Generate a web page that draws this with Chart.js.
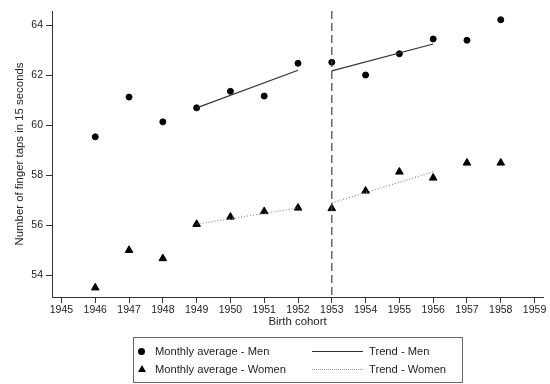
<!DOCTYPE html>
<html>
<head>
<meta charset="utf-8">
<script src="https://cdn.jsdelivr.net/npm/chart.js@4"></script>
<style>
  body { margin: 0; background: #fff; }
  #wrap { position: relative; width: 550px; height: 384px; }
  #legend {
    position: absolute; left: 133px; top: 337px; width: 328px; height: 44px;
    border: 1px solid #666; box-sizing: content-box;
    font-family: "Liberation Sans", Arial, sans-serif; font-size: 11.2px; color: #222;
  }
  .item { position: absolute; height: 14px; line-height: 14px; white-space: nowrap; }
  .mk { position: absolute; }
</style>
</head>
<body>
<div id="wrap">
  <canvas id="chart" width="550" height="384"></canvas>
  <div id="legend"></div>
</div>
<script>
// Data
var years = [1946, 1947, 1948, 1949, 1950, 1951, 1952, 1953, 1954, 1955, 1956, 1957, 1958];
var menAvg = [59.53, 61.12, 60.13, 60.69, 61.35, 61.16, 62.47, 62.51, 62.0, 62.85, 63.44, 63.39, 64.21];
var womenAvg = [53.5, 55.0, 54.67, 56.04, 56.33, 56.55, 56.69, 56.67, 57.37, 58.13, 57.89, 58.49, 58.49];

// Trend segments: before and after the 1953 break
var trendYearsA = [1949, 1952];
var trendYearsB = [1953, 1956];
var trendMenA = [60.69, 62.19];
var trendMenB = [62.17, 63.24];
var trendWomenA = [56.04, 56.69];
var trendWomenB = [56.89, 58.13];

var breakYear = 1953;
var xTicks = [1945, 1946, 1947, 1948, 1949, 1950, 1951, 1952, 1953, 1954, 1955, 1956, 1957, 1958, 1959];
var yTicks = [54, 56, 58, 60, 62, 64];
var legendLabels = ['Monthly average - Men', 'Monthly average - Women', 'Trend - Men', 'Trend - Women'];

function pts(xs, ys) {
  return xs.map(function (x, i) { return { x: x, y: ys[i] }; });
}

var FONT = { family: '"Liberation Sans", Arial, sans-serif', size: 10.5 };
var TITLE_FONT = { family: '"Liberation Sans", Arial, sans-serif', size: 11.4 };
var INK = '#222';

// Vertical dashed line at the break year
var breakLine = {
  id: 'breakLine',
  afterDatasetsDraw: function (chart) {
    var ctx = chart.ctx;
    var x = chart.scales.x.getPixelForValue(breakYear);
    var area = chart.chartArea;
    ctx.save();
    ctx.strokeStyle = '#444';
    ctx.lineWidth = 1.2;
    ctx.setLineDash([8, 4]);
    ctx.beginPath();
    ctx.moveTo(x, area.top);
    ctx.lineTo(x, area.bottom);
    ctx.stroke();
    ctx.restore();
  }
};

var trendLine = { showLine: true, pointRadius: 0, borderWidth: 1.2, fill: false, tension: 0 };

var chart = new Chart(document.getElementById('chart'), {
  type: 'scatter',
  data: {
    datasets: [
      Object.assign({ label: legendLabels[2], data: pts(trendYearsA, trendMenA), borderColor: '#333' }, trendLine),
      Object.assign({ label: legendLabels[2], data: pts(trendYearsB, trendMenB), borderColor: '#333' }, trendLine),
      Object.assign({ label: legendLabels[3], data: pts(trendYearsA, trendWomenA), borderColor: '#888', borderDash: [1, 2] }, trendLine),
      Object.assign({ label: legendLabels[3], data: pts(trendYearsB, trendWomenB), borderColor: '#888', borderDash: [1, 2] }, trendLine),
      {
        label: legendLabels[0],
        data: pts(years, menAvg),
        pointStyle: 'circle',
        pointRadius: 3,
        pointBorderWidth: 1,
        backgroundColor: '#000',
        borderColor: '#000'
      },
      {
        label: legendLabels[1],
        data: pts(years, womenAvg),
        pointStyle: 'triangle',
        pointRadius: 4.4,
        pointBorderWidth: 1,
        backgroundColor: '#000',
        borderColor: '#000'
      }
    ]
  },
  options: {
    responsive: false,
    animation: false,
    layout: { padding: { top: 11, right: 7, bottom: 55.7, left: 0 } },
    plugins: { legend: { display: false }, tooltip: { enabled: false } },
    scales: {
      x: {
        type: 'linear',
        min: 1944.72,
        max: 1959.25,
        afterBuildTicks: function (axis) {
          axis.ticks = xTicks.map(function (v) { return { value: v }; });
        },
        afterFit: function (scale) { scale.height = 31.3; },
        grid: { display: true, drawOnChartArea: false, drawTicks: true, tickLength: 6, color: '#333' },
        border: { display: true, color: '#333', width: 1 },
        ticks: { color: INK, font: FONT, padding: 1, maxRotation: 0, autoSkip: false,
          callback: function (v) { return String(v); } },
        title: { display: true, text: 'Birth cohort', color: INK, font: TITLE_FONT, padding: 0 }
      },
      y: {
        min: 53.13,
        max: 64.56,
        afterBuildTicks: function (axis) {
          axis.ticks = yTicks.map(function (v) { return { value: v }; });
        },
        afterFit: function (scale) { scale.width = 52; },
        grid: { display: true, drawOnChartArea: false, drawTicks: true, tickLength: 6, color: '#333' },
        border: { display: true, color: '#333', width: 1 },
        ticks: { color: INK, font: FONT, padding: 3 },
        title: { display: true, text: 'Number of finger taps in 15 seconds', color: INK, font: TITLE_FONT,
          padding: { top: 13, bottom: 0 } }
      }
    }
  },
  plugins: [breakLine]
});

// Build the two-column legend box under the chart
var legend = document.getElementById('legend');
var rows = [6, 24];
function addItem(text, left, top, marker) {
  var el = document.createElement('div');
  el.className = 'item';
  el.style.left = left + 'px';
  el.style.top = top + 'px';
  el.textContent = text;
  legend.appendChild(el);
  marker.className = 'mk';
  legend.appendChild(marker);
}
var dot = document.createElement('div');
dot.style.cssText = 'left:4px;top:10px;width:7px;height:7px;border-radius:50%;background:#000;';
addItem(legendLabels[0], 21, rows[0], dot);

var tri = document.createElement('div');
tri.style.cssText = 'left:4px;top:27px;width:0;height:0;border-left:4px solid transparent;border-right:4px solid transparent;border-bottom:7px solid #000;';
addItem(legendLabels[1], 21, rows[1], tri);

var solid = document.createElement('div');
solid.style.cssText = 'left:178px;top:13px;width:51px;border-top:1px solid #333;';
addItem(legendLabels[2], 235, rows[0], solid);

var dotted = document.createElement('div');
dotted.style.cssText = 'left:178px;top:31px;width:51px;border-top:1px dotted #999;';
addItem(legendLabels[3], 235, rows[1], dotted);
</script>
</body>
</html>
